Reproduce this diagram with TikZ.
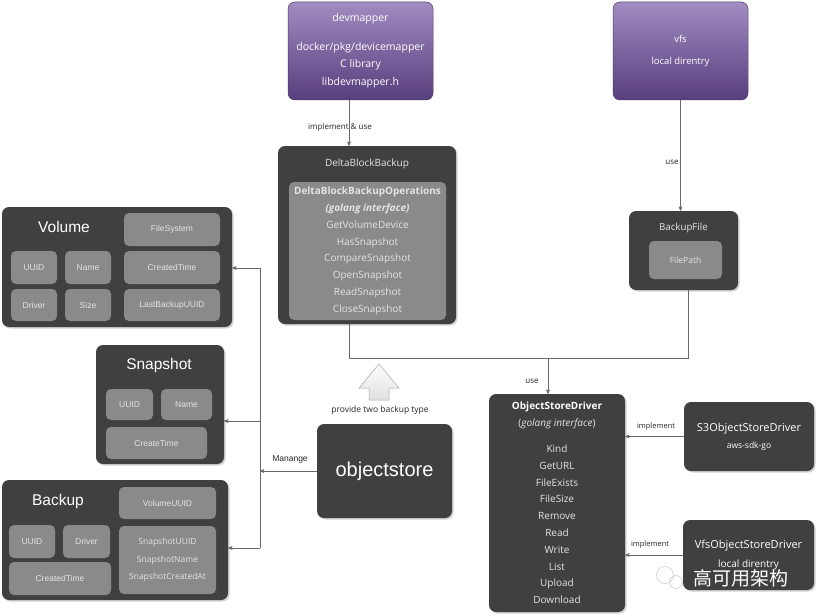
\documentclass[tikz,border=0pt]{standalone}
\usepackage{fontspec}
\setmainfont{Open Sans}
\newfontfamily\arialfont{Liberation Sans}
\newfontfamily\cjkfont{Noto Sans CJK SC}
\usetikzlibrary{calc, arrows, shadows}
\definecolor{boxdark}{HTML}{404040}
\definecolor{boxlight}{HTML}{8A8A8A}
\definecolor{txtlight}{HTML}{E4E4E4}
\definecolor{purptop}{HTML}{A18CC1}
\definecolor{purpbot}{HTML}{573E7D}
\definecolor{linegray}{HTML}{6A6A6A}

\begin{document}
\begin{tikzpicture}[x=1pt,y=-1pt,>=stealth',every node/.style={inner sep=0pt},
  darkbox/.style={shape=rectangle,rounded corners=7pt,fill=boxdark,drop shadow={opacity=0.35,shadow xshift=1.5pt,shadow yshift=-1.5pt}},
  lightbox/.style={shape=rectangle,rounded corners=5pt,fill=boxlight,text=txtlight,font=\arialfont\fontsize{8.5}{10}\selectfont},
  purplebox/.style={shape=rectangle,rounded corners=7pt,top color=purptop,bottom color=purpbot,draw=purpbot!85!black,line width=0.5pt,text=white,align=center},
  title/.style={text=white,font=\arialfont\fontsize{15.5}{17}\selectfont},
  link/.style={draw=linegray,line width=0.6pt},
  lbl/.style={text=black!85,font=\fontsize{8}{9}\selectfont}
]
\useasboundingbox (0,0) rectangle (818,615);

% top sources
\node[purplebox,minimum width=145pt,minimum height=98pt,font=\fontsize{10.5}{17.5}\selectfont] (nDev) at (360.5,51)
  {devmapper\\[11pt]docker/pkg/devicemapper\\C library\\libdevmapper.h};
\node[purplebox,minimum width=135pt,minimum height=98pt,font=\fontsize{9.5}{22}\selectfont] (nVfs) at (680.5,51)
  {vfs\\local direntry};

% DeltaBlockBackup
\node[darkbox,minimum width=178pt,minimum height=178pt] (nDelta) at (367,235) {};
\node[text=txtlight,font=\fontsize{10}{12}\selectfont] (nDeltaT) at (367,164) {DeltaBlockBackup};
\node[lightbox,minimum width=157pt,minimum height=138pt,align=center,font=\fontsize{10}{16.75}\selectfont] (nOps) at (367.5,251)
  {\textbf{DeltaBlockBackupOperations}\\\textbf{\textit{(golang interface)}}\\GetVolumeDevice\\HasSnapshot\\CompareSnapshot\\OpenSnapshot\\ReadSnapshot\\CloseSnapshot};

% BackupFile
\node[darkbox,minimum width=109pt,minimum height=79pt] (nBF) at (683.5,250.5) {};
\node[text=txtlight,font=\fontsize{9.7}{12}\selectfont] (nBFT) at (683.5,228) {BackupFile};
\node[lightbox,minimum width=73pt,minimum height=38pt,font=\fontsize{8.5}{10}\selectfont] (nPath) at (685.5,260) {FilePath};

% Volume
\node[darkbox,minimum width=230pt,minimum height=120pt] (nVol) at (117,267) {};
\node[title] (nVolT) at (64,227) {Volume};
\node[lightbox,minimum width=96pt,minimum height=33pt] (nVolFS) at (172,229.5) {FileSystem};
\node[lightbox,minimum width=46pt,minimum height=33pt] (nVolId) at (34,267.5) {UUID};
\node[lightbox,minimum width=46pt,minimum height=33pt] (nVolName) at (88,267.5) {Name};
\node[lightbox,minimum width=96pt,minimum height=33pt] (nVolCT) at (172,267.5) {CreatedTime};
\node[lightbox,minimum width=46pt,minimum height=32pt] (nVolDrv) at (34,305) {Driver};
\node[lightbox,minimum width=46pt,minimum height=32pt] (nVolSize) at (88,305) {Size};
\node[lightbox,minimum width=96pt,minimum height=32pt] (nVolLB) at (172,305) {LastBackupUUID};

% Snapshot
\node[darkbox,minimum width=128pt,minimum height=119pt] (nSnap) at (160,404.5) {};
\node[title] (nSnapT) at (159,365) {Snapshot};
\node[lightbox,minimum width=47pt,minimum height=31pt] (nSnapId) at (129.5,404.5) {UUID};
\node[lightbox,minimum width=51pt,minimum height=31pt] (nSnapName) at (186.5,404.5) {Name};
\node[lightbox,minimum width=101pt,minimum height=32pt] (nSnapCT) at (156.5,443) {CreateTime};

% Backup
\node[darkbox,minimum width=226pt,minimum height=120pt] (nBak) at (115,540) {};
\node[title] (nBakT) at (58,501) {Backup};
\node[lightbox,minimum width=97pt,minimum height=32pt] (nBakVol) at (167.5,503) {VolumeUUID};
\node[lightbox,minimum width=46pt,minimum height=33pt] (nBakId) at (32,541.5) {UUID};
\node[lightbox,minimum width=47pt,minimum height=33pt] (nBakDrv) at (86.5,541.5) {Driver};
\node[lightbox,minimum width=102pt,minimum height=33pt] (nBakCT) at (60,578.5) {CreatedTime};
\node[lightbox,minimum width=97pt,minimum height=68pt,align=center,font=\fontsize{8.5}{17.5}\selectfont] (nBakSnap) at (167.5,560)
  {SnapshotUUID\\SnapshotName\\SnapshotCreatedAt};

% objectstore and drivers
\node[darkbox,minimum width=135pt,minimum height=94pt,text=white,font=\arialfont\fontsize{20}{22}\selectfont] (nObj) at (384.5,471) {objectstore};
\node[darkbox,minimum width=136pt,minimum height=218pt,align=center,text=txtlight,font=\fontsize{10}{16.8}\selectfont] (nOSD) at (557,503)
  {{\color{white}\textbf{ObjectStoreDriver}}\\(\textit{golang interface})\\[9pt]Kind\\GetURL\\FileExists\\FileSize\\Remove\\Read\\Write\\List\\Upload\\Download};
\node[darkbox,minimum width=130pt,minimum height=69pt,align=center,text=white,font=\fontsize{11}{17}\selectfont] (nS3) at (749,436.5)
  {S3ObjectStoreDriver\\{\fontsize{8.5}{17}\selectfont aws-sdk-go}};
\node[darkbox,minimum width=131pt,minimum height=70pt,align=center,text=white,font=\fontsize{11}{19}\selectfont] (nVfsD) at (748.5,555)
  {VfsObjectStoreDriver\\{\fontsize{10}{19}\selectfont local direntry}};

% connectors
\coordinate (cJoin) at (349,358);
\coordinate (cRight) at (688,358);
\coordinate (cUse) at (548,358);
\draw[link,->] (nDev.south -| cJoin) -- (nDelta.north -| cJoin);
\node[lbl] (lImpl) at (340,127) {implement \& use};
\draw[link,->] (nVfs.south) -- (nVfs.south |- nBF.north);
\node[lbl] (lUse1) at (672,162) {use};
\draw[link] (nDelta.south -| cJoin) -- (cJoin) -- (cRight) -- (nBF.south -| cRight);
\draw[link,->] (cUse) -- (cUse |- nOSD.north);
\node[lbl] (lUse2) at (532,381) {use};
\draw[link,->] (nS3.west) -- (nS3.west -| nOSD.east);
\node[lbl,font=\fontsize{7.5}{9}\selectfont] (lImplS3) at (656,427) {implement};
\draw[link,->] (nVfsD.west) -- (nVfsD.west -| nOSD.east);
\node[lbl,font=\fontsize{7.5}{9}\selectfont] (lImplVfs) at (650,545) {implement};

% manage
\coordinate (cTop) at (260,268);
\coordinate (cSnap) at (260,421);
\coordinate (cBot) at (260,548);
\draw[link,->] (nObj.west) -- (nObj.west -| cTop);
\node[lbl,font=\arialfont\fontsize{8.5}{10}\selectfont] (lManage) at (290,459) {Manange};
\draw[link] (cTop) -- (cBot);
\draw[link,->] (cTop) -- (cTop -| nVol.east);
\draw[link,->] (cSnap) -- (cSnap -| nSnap.east);
\draw[link,->] (cBot) -- (cBot -| nBak.east);

% hollow block arrow
\draw[draw=gray!70,line width=0.5pt,top color=white,bottom color=gray!25]
  (379,364) -- (399,388) -- (389,388) -- (389,400) -- (369,400) -- (369,388) -- (359,388) -- cycle;
\node[lbl,font=\fontsize{8.5}{10}\selectfont] (lProvide) at (380,410) {provide two backup type};

% watermark
\draw[gray!40,line width=0.6pt] (665,575) circle (8.5pt) (676,582) circle (6.5pt);
\node[text=white,font=\cjkfont\fontsize{19}{20}\selectfont] (nMark) at (741,578) {高可用架构};
\end{tikzpicture}
\end{document}
